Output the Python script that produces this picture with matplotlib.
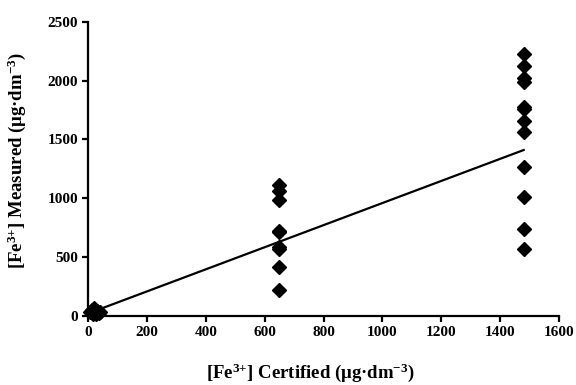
import matplotlib
matplotlib.use("Agg")
import matplotlib.pyplot as plt
import numpy as np

plt.rcParams["font.family"] = ["Liberation Serif", "DejaVu Serif"]
plt.rcParams["font.weight"] = "bold"
plt.rcParams["mathtext.default"] = "regular"

# certified vs measured Fe3+ (ug/dm3)
low_x = [8, 12, 16, 20, 24, 28, 32, 36, 40]
low_y = [30, 55, 15, 70, 40, 20, 45, 25, 35]
mid_x = [650] * 9
mid_y = [1110, 1060, 985, 725, 715, 590, 565, 420, 225]
high_x = [1480] * 12
high_y = [2225, 2120, 2020, 1990, 1775, 1755, 1660, 1565, 1270, 1010, 740, 570]

# trend line
trend_x = [10, 1480]
trend_slope = 0.9386
trend_icpt = 21.0

x_ticks = [0, 200, 400, 600, 800, 1000, 1200, 1400, 1600]
y_ticks = [0, 500, 1000, 1500, 2000, 2500]

fig = plt.figure(figsize=(5.76, 3.85), dpi=100)
ax = fig.add_axes([0.1528, 0.1792, 0.8177, 0.7644])

xs = low_x + mid_x + high_x
ys = low_y + mid_y + high_y
ax.plot(xs, ys, "D", color="black", markersize=7, zorder=3, clip_on=False)

tx = np.array(trend_x, dtype=float)
ax.plot(tx, trend_slope * tx + trend_icpt, color="black", linewidth=1.6, zorder=2)

ax.set_xlim(0, 1600)
ax.set_ylim(0, 2500)
ax.set_xticks(x_ticks)
ax.set_yticks(y_ticks)
for s in ("top", "right"):
    ax.spines[s].set_visible(False)
for s in ("left", "bottom"):
    ax.spines[s].set_linewidth(1.6)
ax.tick_params(direction="out", length=4, width=1.6, labelsize=11, pad=3)
for lab in ax.get_xticklabels() + ax.get_yticklabels():
    lab.set_fontweight("bold")

ax.set_xlabel("[Fe$^{3{+}}$] Certified (\u03bcg\u00b7dm$^{-3}$)", fontsize=13.5,
              fontweight="bold")
ax.set_ylabel("[Fe$^{3{+}}$] Measured (\u03bcg\u00b7dm$^{-3}$)", fontsize=13.5,
              fontweight="bold")
ax.xaxis.set_label_coords(0.471, -0.155)
ax.yaxis.set_label_coords(-0.128, 0.527)

fig.savefig("out.png", dpi=100)
